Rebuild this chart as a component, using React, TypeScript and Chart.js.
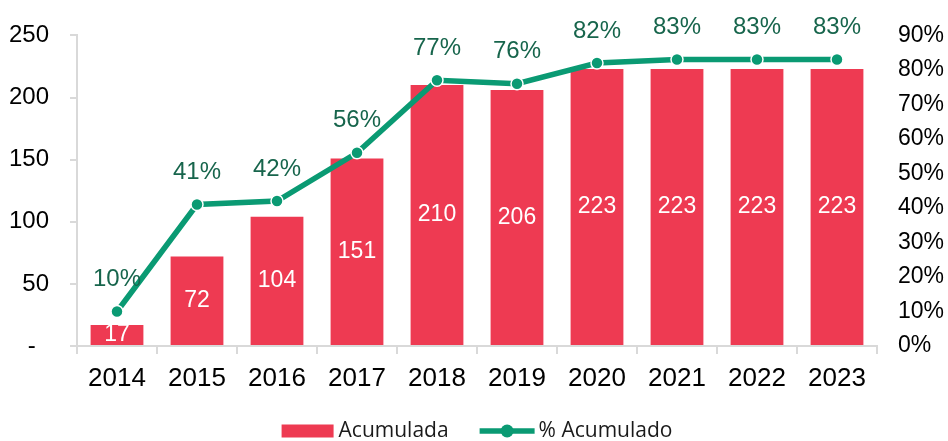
import React, { useEffect, useRef } from 'react';
import { Chart, registerables } from 'chart.js';

Chart.register(...registerables);

const years = ['2014', '2015', '2016', '2017', '2018', '2019', '2020', '2021', '2022', '2023'];
const acumulada = [17, 72, 104, 151, 210, 206, 223, 223, 223, 223];
const pctAcumulado = [0.1, 0.41, 0.42, 0.56, 0.77, 0.76, 0.82, 0.83, 0.83, 0.83];
const seriesNames = ['Acumulada', '% Acumulado'];
const leftMax = 250;
const leftStep = 50;
const rightMax = 0.9;
const rightStep = 0.1;

const BAR = '#EE3A52';
const LINE = '#0A9A73';
const LABEL_GREEN = '#17654C';
const AXIS = '#D9D9D9';
const FONT = '"Liberation Sans", Arial, sans-serif';
const LEGEND_FONT = '"Open Sans", sans-serif';

const labelPlugin = {
  id: 'valueLabels',
  afterDatasetsDraw(chart: any) {
    const ctx = chart.ctx;
    ctx.save();
    ctx.textAlign = 'center';
    ctx.textBaseline = 'middle';
    const barMeta = chart.getDatasetMeta(0);
    ctx.font = `23px ${FONT}`;
    ctx.fillStyle = '#FFFFFF';
    barMeta.data.forEach((el: any, i: number) => {
      const cy = (el.y + el.base) / 2;
      ctx.fillText(String(acumulada[i]), el.x, cy);
    });
    const lineMeta = chart.getDatasetMeta(1);
    ctx.font = `24px ${FONT}`;
    ctx.fillStyle = LABEL_GREEN;
    lineMeta.data.forEach((el: any, i: number) => {
      ctx.fillText(Math.round(pctAcumulado[i] * 100) + '%', el.x, el.y - 32);
    });
    ctx.restore();
  },
};

const legendPlugin = {
  id: 'customLegend',
  afterDraw(chart: any) {
    const ctx = chart.ctx;
    const area = chart.chartArea;
    ctx.save();
    ctx.font = `21px ${LEGEND_FONT}`;
    ctx.textBaseline = 'middle';
    ctx.textAlign = 'left';
    const boxW = 52;
    const lineW = 55;
    const gapText = 5;
    const gapItems = 31;
    const w0 = ctx.measureText(seriesNames[0]).width;
    const w1 = ctx.measureText(seriesNames[1]).width;
    const total = boxW + gapText + w0 + gapItems + lineW + 4 + w1;
    let x = (area.left + area.right) / 2 - total / 2;
    const cy = 431;
    ctx.fillStyle = BAR;
    ctx.fillRect(x, cy - 6.5, boxW, 13);
    x += boxW + gapText;
    ctx.fillStyle = '#1A1A1A';
    ctx.fillText(seriesNames[0], x, cy);
    x += w0 + gapItems;
    ctx.strokeStyle = LINE;
    ctx.lineWidth = 5.5;
    ctx.beginPath();
    ctx.moveTo(x, cy);
    ctx.lineTo(x + lineW, cy);
    ctx.stroke();
    ctx.fillStyle = LINE;
    ctx.beginPath();
    ctx.arc(x + lineW / 2, cy, 6.5, 0, Math.PI * 2);
    ctx.fill();
    x += lineW + 4;
    ctx.fillStyle = '#1A1A1A';
    ctx.fillText(seriesNames[1], x, cy);
    ctx.restore();
  },
};

export default function App() {
  const ref = useRef<HTMLCanvasElement>(null);
  useEffect(() => {
    if (!ref.current) return;
    const chart = new Chart(ref.current, {
      data: {
        labels: years,
        datasets: [
          {
            type: 'bar',
            label: seriesNames[0],
            data: acumulada,
            backgroundColor: BAR,
            barPercentage: 0.66,
            categoryPercentage: 1,
            yAxisID: 'y',
            order: 1,
          },
          {
            type: 'line',
            label: seriesNames[1],
            data: pctAcumulado,
            borderColor: LINE,
            backgroundColor: LINE,
            borderWidth: 5.5,
            pointRadius: 6,
            pointBackgroundColor: LINE,
            pointBorderColor: '#FFFFFF',
            pointBorderWidth: 1.5,
            tension: 0,
            yAxisID: 'y1',
            order: 0,
          },
        ],
      } as any,
      options: {
        responsive: false,
        animation: false,
        layout: { padding: { top: 30, left: 0, right: 0, bottom: 0 } },
        plugins: { legend: { display: false }, tooltip: { enabled: false } },
        scales: {
          x: {
            offset: true,
            grid: { offset: true, drawOnChartArea: false, drawTicks: true, tickLength: 8, color: AXIS, lineWidth: 2 },
            border: { color: AXIS, width: 2 },
            ticks: { font: { family: FONT, size: 26 }, color: '#000', padding: 9, maxRotation: 0 },
            afterFit: (s: any) => { s.height = 95; },
          },
          y: {
            position: 'left',
            min: 0,
            max: leftMax,
            ticks: {
              stepSize: leftStep,
              font: { family: FONT, size: 24 },
              color: '#000',
              padding: 21,
              callback: (v: any) => (v === 0 ? '-  ' : String(v)),
            },
            grid: { drawOnChartArea: false, tickLength: 7, color: AXIS, lineWidth: 2 },
            border: { color: AXIS, width: 2 },
            afterFit: (s: any) => { s.width = 77; },
          },
          y1: {
            position: 'right',
            min: 0,
            max: rightMax,
            ticks: {
              stepSize: rightStep,
              font: { family: FONT, size: 23 },
              color: '#000',
              padding: 21,
              callback: (v: any) => Math.round(v * 100) + '%',
            },
            grid: { display: false, drawTicks: false, tickLength: 0 },
            border: { display: false },
            afterFit: (s: any) => { s.width = 71; },
          },
        },
      } as any,
      plugins: [labelPlugin, legendPlugin],
    });
    return () => chart.destroy();
  }, []);
  return (
    <div style={{ position: 'fixed', left: 0, top: 0, width: 948, height: 441, background: '#fff' }}>
      <canvas ref={ref} width={948} height={441} />
    </div>
  );
}
